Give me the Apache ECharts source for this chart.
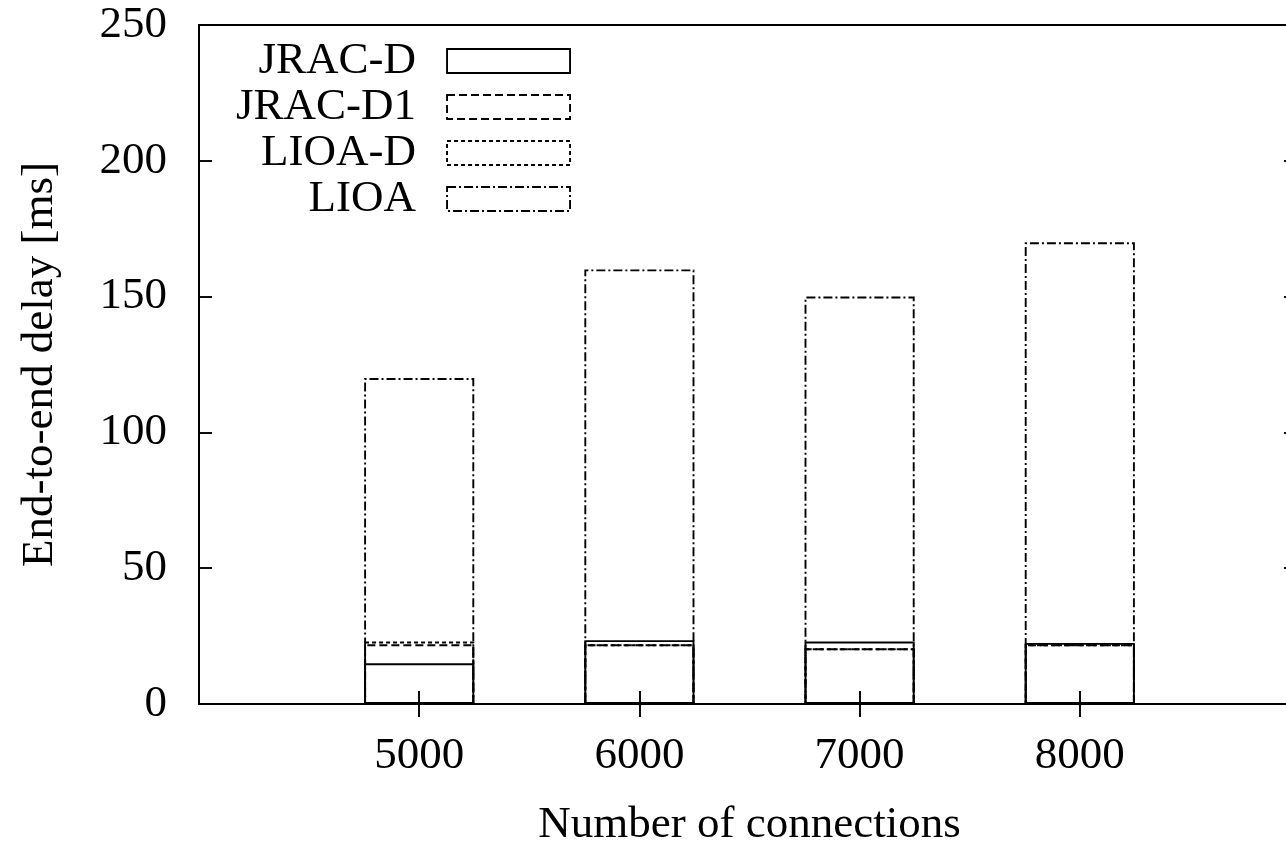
<!DOCTYPE html>
<html>
<head>
<meta charset="utf-8">
<script src="https://cdn.jsdelivr.net/npm/echarts@6/dist/echarts.min.js"></script>
<style>
  html, body { margin: 0; padding: 0; background: #fff; overflow: hidden; }
  #chart { width: 1320px; height: 842px; }
</style>
</head>
<body>
<div id="chart"></div>
<script>
// Number of connections (x positions of the bar groups)
const connections = [5000, 6000, 7000, 8000];

// End-to-end delay [ms] per scheme
const jracD  = [15, 23.5, 23, 22.5];
const jracD1 = [22, 22, 20.5, 22];
const lioaD  = [23, 22, 20.5, 22];
const lioa   = [120, 160, 150, 170];

const seriesNames = ['JRAC-D', 'JRAC-D1', 'LIOA-D', 'LIOA'];
const seriesValues = [jracD, jracD1, lioaD, lioa];

// y axis ticks
const yTicks = [0, 50, 100, 150, 200, 250];

const FONT = '"Liberation Serif", "Times New Roman", serif';
const dashes = ['solid', [8, 4], [4, 3], [9, 3, 2, 3]];
const LW = 1.9;

const chart = echarts.init(document.getElementById('chart'), null, { renderer: 'canvas' });

const axisCommon = {
  axisLine: { show: true, lineStyle: { color: '#000', width: LW } },
  axisTick: { show: true, inside: true, length: 13, lineStyle: { color: '#000', width: LW } },
  splitLine: { show: false }
};

const series = seriesNames.map((name, i) => ({
  name: name,
  type: 'bar',
  barWidth: '50%',
  barGap: '-100%',
  data: connections.map((c, j) => [c, seriesValues[i][j]]),
  itemStyle: {
    color: 'rgba(0,0,0,0)',
    borderColor: '#000',
    borderWidth: LW,
    borderType: dashes[i]
  },
  emphasis: { disabled: true },
  silent: true
}));

chart.setOption({
  animation: false,
  backgroundColor: '#fff',
  grid: {
    left: 199, top: 25, width: 1101, height: 679,
    outerBoundsMode: 'none',
    containLabel: false,
    show: true, borderColor: '#000', borderWidth: LW, backgroundColor: 'transparent'
  },
  legend: {
    orient: 'vertical',
    align: 'right',
    left: 'auto',
    right: 1320 - 571,
    top: 38,
    padding: 0,
    itemGap: 0,
    itemWidth: 123,
    itemHeight: 24,
    icon: 'rect',
    selectedMode: false,
    textStyle: {
      fontFamily: FONT, fontSize: 45, color: '#000',
      lineHeight: 46, padding: [0, 26, 0, 0]
    },
    data: seriesNames.map((name, i) => ({
      name: name,
      icon: 'rect',
      itemStyle: {
        color: 'rgba(0,0,0,0)',
        borderColor: '#000',
        borderWidth: LW,
        borderType: dashes[i]
      }
    }))
  },
  xAxis: [
    Object.assign({}, axisCommon, {
      type: 'value',
      position: 'bottom',
      min: 4000, max: 9000, interval: 1000,
      name: 'Number of connections',
      nameLocation: 'middle',
      nameGap: 99,
      nameTextStyle: { fontFamily: FONT, fontSize: 45, color: '#000' },
      axisLabel: {
        fontFamily: FONT, fontSize: 45, color: '#000', margin: 30,
        formatter: v => (connections.indexOf(v) >= 0 ? String(v) : '')
      },
      axisTick: {
        show: true, inside: true, length: 13,
        lineStyle: { color: '#000', width: LW },
        customValues: connections
      }
    }),
    Object.assign({}, axisCommon, {
      type: 'value',
      position: 'top',
      min: 4000, max: 9000, interval: 1000,
      axisLabel: { show: false },
      axisTick: {
        show: true, inside: true, length: 13,
        lineStyle: { color: '#000', width: LW },
        customValues: connections
      }
    })
  ],
  yAxis: [
    Object.assign({}, axisCommon, {
      type: 'value',
      position: 'left',
      min: yTicks[0], max: yTicks[yTicks.length - 1], interval: 50,
      name: 'End-to-end delay [ms]',
      nameLocation: 'middle',
      nameRotate: 90,
      nameGap: 136,
      nameTextStyle: { fontFamily: FONT, fontSize: 45, color: '#000' },
      axisLabel: { fontFamily: FONT, fontSize: 45, color: '#000', margin: 32 }
    }),
    Object.assign({}, axisCommon, {
      type: 'value',
      position: 'right',
      min: yTicks[0], max: yTicks[yTicks.length - 1], interval: 50,
      axisTick: { show: true, inside: true, length: 16, lineStyle: { color: '#000', width: LW } },
      axisLabel: { show: false }
    })
  ],
  series: series
});
</script>
</body>
</html>
